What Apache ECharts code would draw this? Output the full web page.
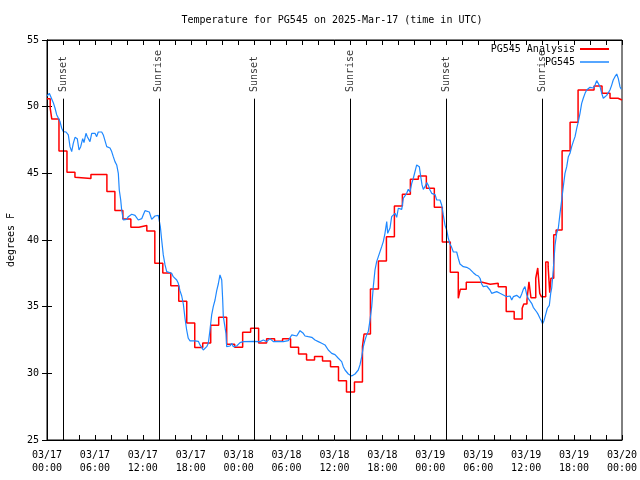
<!DOCTYPE html>
<html><head><meta charset="utf-8">
<script src="https://cdn.jsdelivr.net/npm/echarts@6/dist/echarts.min.js"></script>
<style>html,body{margin:0;padding:0;background:#fff}#c{width:640px;height:480px}</style>
</head><body><div id="c"></div>
<script>
// Time axis values are hours since 2025-03-17 00:00 UTC
const analysisPG545 = [[0,50.6],[0.4,49.9],[0.6,49.07],[1.5,46.67],[2.5,45.08],[3.5,44.7],[3.7,44.62],[5.5,44.92],[7.5,43.63],[8.5,42.22],[9.5,41.57],[10.5,40.95],[11.5,41.08],[12.5,40.68],[13.5,38.25],[14.5,37.53],[15.5,36.57],[16.5,35.4],[17.5,33.78],[18.5,31.93],[19.5,32.28],[20.5,33.6],[21.5,34.2],[22.5,32.18],[23.5,31.95],[24.5,33.08],[25.5,33.38],[26.5,32.28],[27.5,32.6],[28.5,32.4],[29.5,32.6],[30.5,31.95],[31.5,31.45],[32.5,31.0],[33.5,31.27],[34.5,30.93],[35.5,30.5],[36.5,29.45],[37.5,28.6],[38.5,29.35],[39.5,32.0],[39.7,32.95],[40.5,36.33],[41.5,38.43],[42.5,40.25],[43.5,42.55],[44.5,43.43],[45.5,44.55],[46.5,44.8],[47.5,43.88],[48.5,42.45],[49.5,39.85],[50.5,37.58],[51.5,35.63],[51.75,36.3],[52.5,36.83],[54.5,36.68],[55.5,36.75],[56.5,36.5],[57.5,34.63],[58.5,34.08],[59.5,34.88],[59.7,35.2],[60.1,35.5],[60.35,36.87],[60.6,35.67],[61.2,37.13],[61.45,37.9],[61.7,36.0],[61.9,35.75],[62.45,38.35],[62.75,38.0],[62.95,36.05],[63.1,37.13],[63.45,40.4],[63.75,40.75],[64.5,46.7],[65.5,48.83],[66.5,51.25],[68.5,51.55],[69.5,51.0],[70.5,50.63],[71.5,50.5],[72,50.5]];

const obsPG545 = [[0,50.8],[0.29,51.0],[0.5,50.88],[0.79,50.3],[1.0,49.9],[1.21,49.4],[1.38,49.3],[1.63,48.88],[1.84,48.38],[2.04,48.13],[2.38,48.1],[2.67,47.88],[2.88,47.0],[3.09,46.63],[3.29,47.25],[3.51,47.7],[3.79,47.6],[4.01,46.75],[4.22,47.0],[4.47,47.6],[4.63,47.3],[4.88,48.0],[5.05,47.75],[5.17,47.75],[5.38,47.38],[5.6,48.0],[5.8,47.9],[6.01,48.0],[6.22,47.75],[6.42,48.1],[6.64,48.25],[6.85,48.1],[7.05,47.88],[7.26,47.75],[7.48,47.0],[7.89,46.9],[8.1,46.63],[8.3,46.25],[8.51,45.88],[8.73,45.63],[8.93,45.0],[9.05,43.75],[9.23,43.0],[9.35,42.25],[9.55,41.5],[9.98,41.55],[10.18,41.75],[10.39,41.9],[10.61,41.93],[10.81,41.95],[11.02,41.85],[11.23,41.75],[11.43,41.5],[11.65,41.43],[11.86,41.6],[12.06,41.9],[12.27,42.2],[12.48,42.1],[12.81,42.1],[13.11,41.55],[13.31,41.7],[13.52,41.8],[13.74,41.88],[13.94,41.85],[14.06,41.7],[14.19,41.0],[14.36,40.0],[14.56,38.88],[14.78,38.13],[14.99,37.63],[15.19,37.5],[15.61,37.5],[15.81,37.25],[16.24,37.0],[16.44,36.75],[16.65,36.2],[16.87,35.8],[17.07,35.2],[17.28,34.13],[17.49,33.25],[17.69,32.63],[17.91,32.43],[18.53,32.43],[18.75,32.5],[18.95,32.4],[19.16,32.13],[19.37,31.95],[19.57,31.75],[19.78,31.75],[20.0,32.0],[20.2,32.25],[20.41,33.25],[20.62,34.38],[20.82,35.0],[21.04,35.5],[21.25,36.2],[21.45,36.7],[21.66,37.38],[21.88,37.0],[22.0,35.5],[22.08,34.25],[22.29,34.25],[22.41,33.0],[22.5,32.0],[22.7,32.1],[22.92,32.05],[23.13,32.25],[23.33,32.0],[23.75,32.05],[24.17,32.3],[24.58,32.38],[25.83,32.4],[26.67,32.38],[27.09,32.5],[27.51,32.38],[27.92,32.6],[28.34,32.38],[29.59,32.38],[30.22,32.45],[30.43,32.55],[30.64,32.88],[30.84,32.9],[31.27,32.8],[31.47,32.95],[31.68,33.2],[31.89,33.25],[32.09,33.0],[32.31,32.8],[32.52,32.88],[32.72,32.75],[32.93,32.85],[33.15,32.7],[33.56,32.5],[33.97,32.38],[34.4,32.25],[34.81,32.13],[35.22,31.75],[35.65,31.5],[36.06,31.4],[36.48,31.13],[36.9,30.88],[37.1,30.5],[37.32,30.25],[37.73,29.95],[38.15,29.8],[38.57,29.95],[38.98,30.25],[39.19,30.63],[39.41,31.25],[39.61,32.0],[39.82,32.5],[40.03,32.88],[40.23,33.13],[40.45,34.0],[40.66,35.0],[40.86,36.5],[41.07,37.75],[41.28,38.38],[41.49,38.75],[41.7,39.13],[41.91,39.5],[42.11,39.88],[42.32,40.5],[42.54,41.38],[42.66,40.5],[42.82,40.4],[42.95,40.9],[43.16,41.75],[43.36,41.65],[43.58,42.0],[43.79,41.7],[43.99,42.38],[44.2,42.5],[44.42,42.3],[44.62,43.13],[44.83,43.2],[45.04,43.5],[45.24,43.8],[45.45,43.6],[45.67,44.25],[45.87,44.63],[46.08,44.7],[46.29,45.63],[46.42,45.75],[46.62,45.5],[46.8,44.75],[46.96,44.13],[47.12,43.8],[47.33,44.0],[47.55,44.3],[47.75,44.1],[47.96,43.75],[48.17,43.5],[48.59,43.4],[48.8,43.0],[49.0,43.13],[49.21,43.0],[49.42,42.63],[49.62,41.88],[49.84,41.1],[50.05,40.75],[50.25,40.13],[50.46,39.7],[50.67,39.45],[50.88,39.1],[51.09,39.0],[51.3,39.1],[51.5,38.63],[51.71,38.2],[52.13,38.0],[52.55,37.95],[52.97,37.8],[53.38,37.55],[53.72,37.38],[54.01,37.3],[54.22,37.13],[54.43,36.7],[54.63,36.5],[55.06,36.55],[55.26,36.5],[55.47,36.25],[55.68,36.0],[55.89,36.0],[56.31,36.13],[56.72,36.0],[57.14,35.88],[57.56,35.75],[57.77,35.7],[57.98,35.8],[58.19,35.5],[58.39,35.75],[58.81,35.85],[59.23,35.65],[59.44,35.95],[59.64,36.3],[59.85,36.5],[60.07,35.9],[60.27,35.6],[60.48,35.55],[60.69,35.25],[60.89,34.95],[61.32,34.6],[61.52,34.4],[61.73,34.13],[61.94,33.88],[62.05,33.72],[62.23,33.95],[62.48,34.5],[62.65,34.88],[62.9,35.1],[63.07,36.0],[63.2,36.4],[63.4,37.8],[63.61,39.6],[63.82,40.5],[64.03,40.9],[64.24,42.0],[64.45,43.0],[64.65,44.0],[64.86,45.0],[65.08,45.5],[65.28,46.25],[65.49,46.5],[65.7,47.0],[65.9,47.38],[66.12,47.75],[66.33,48.38],[66.53,48.88],[66.74,49.5],[66.95,50.25],[67.15,50.63],[67.37,51.0],[67.58,51.25],[67.79,51.2],[67.99,51.45],[68.2,51.3],[68.41,51.4],[68.62,51.63],[68.83,51.95],[69.03,51.85],[69.25,51.5],[69.46,51.0],[69.66,50.63],[69.87,50.7],[70.08,50.85],[70.28,51.0],[70.49,51.25],[70.7,51.6],[70.9,52.0],[71.12,52.25],[71.34,52.45],[71.54,52.1],[71.75,51.5],[71.91,51.3]];

const eventHours = [2, 14, 26, 38, 50, 62];
const eventNames = ['Sunset', 'Sunrise', 'Sunset', 'Sunrise', 'Sunset', 'Sunrise'];
const startDay = 17;
const month = '03';

const FONT = "'DejaVu Sans Mono', 'Liberation Mono', monospace";
const txt = {fontFamily: FONT, fontSize: 10, color: '#000'};
function fmtHour(h) {
  const d = startDay + Math.floor(h / 24);
  const hh = h % 24;
  return month + '/' + d + '\n' + String(hh).padStart(2, '0') + ':00';
}
const tickStyle = {show: true, inside: true, length: 5, lineStyle: {color: '#000', width: 1}};
const lineAx = {show: true, lineStyle: {color: '#000', width: 1}};

const chart = echarts.init(document.getElementById('c'), null, {renderer: 'canvas'});
chart.setOption({
  animation: false,
  backgroundColor: '#fff',
  title: {text: 'Temperature for PG545 on 2025-Mar-17 (time in UTC)', left: 332, top: 15, textAlign: 'center', padding: 0,
          textStyle: Object.assign({}, txt, {fontWeight: 'normal'})},
  grid: {left: 47, right: 18, top: 40, bottom: 40, show: true, borderColor: '#000', borderWidth: 1, outerBoundsMode: 'none', containLabel: false},
  legend: [
    {data: ['PG545 Analysis'], right: 31, top: 44, padding: 0, orient: 'vertical', align: 'right', icon: 'rect', itemWidth: 29, itemHeight: 2, textStyle: txt, selectedMode: false},
    {data: ['PG545'], right: 31, top: 57, padding: 0, orient: 'vertical', align: 'right', icon: 'rect', itemWidth: 29, itemHeight: 1.5, textStyle: txt, selectedMode: false}
  ],
  xAxis: [
    {type: 'value', min: 0, max: 72, interval: 2, position: 'bottom', axisLine: lineAx, axisTick: tickStyle, splitLine: {show: false},
     axisLabel: Object.assign({}, txt, {formatter: v => (v % 6 === 0 ? fmtHour(v) : ''), lineHeight: 13, margin: 9, showMinLabel: true, showMaxLabel: true})},
    {type: 'value', min: 0, max: 72, interval: 2, position: 'top', axisLine: lineAx, axisTick: tickStyle, splitLine: {show: false}, axisLabel: {show: false}}
  ],
  yAxis: [
    {type: 'value', min: 25, max: 55, interval: 5, position: 'left', axisLine: lineAx, axisTick: tickStyle, splitLine: {show: false},
     name: 'degrees F', nameLocation: 'middle', nameRotate: 90, nameGap: 31, nameTextStyle: txt,
     axisLabel: Object.assign({}, txt, {margin: 8})},
    {type: 'value', min: 25, max: 55, interval: 5, position: 'right', axisLine: lineAx, axisTick: tickStyle, splitLine: {show: false}, axisLabel: {show: false}}
  ],
  series: [
    {name: 'events', type: 'scatter', z: 1, symbolSize: 0, silent: true,
     data: eventHours.map((h, i) => ({value: [h, 51.1], name: eventNames[i]})),
     label: Object.assign({}, txt, {show: true, formatter: p => p.name, rotate: 90, position: [0, 0], align: 'left', verticalAlign: 'middle'}),
     markLine: {silent: true, symbol: ['none', 'none'], label: {show: false}, animation: false,
       lineStyle: {color: '#000', width: 1, type: 'solid'},
       data: eventHours.map(h => [{coord: [h, 25]}, {coord: [h, 50.6]}])}
    },
    {name: 'PG545 Analysis', type: 'line', step: 'end', data: analysisPG545, symbol: 'none', showSymbol: false, z: 3,
     lineStyle: {color: '#ff0000', width: 1.5}, itemStyle: {color: '#ff0000'}},
    {name: 'PG545', type: 'line', data: obsPG545, symbol: 'none', showSymbol: false, z: 4,
     lineStyle: {color: '#1e88ff', width: 1.2}, itemStyle: {color: '#1e88ff'}}
  ]
});
</script>
</body></html>
